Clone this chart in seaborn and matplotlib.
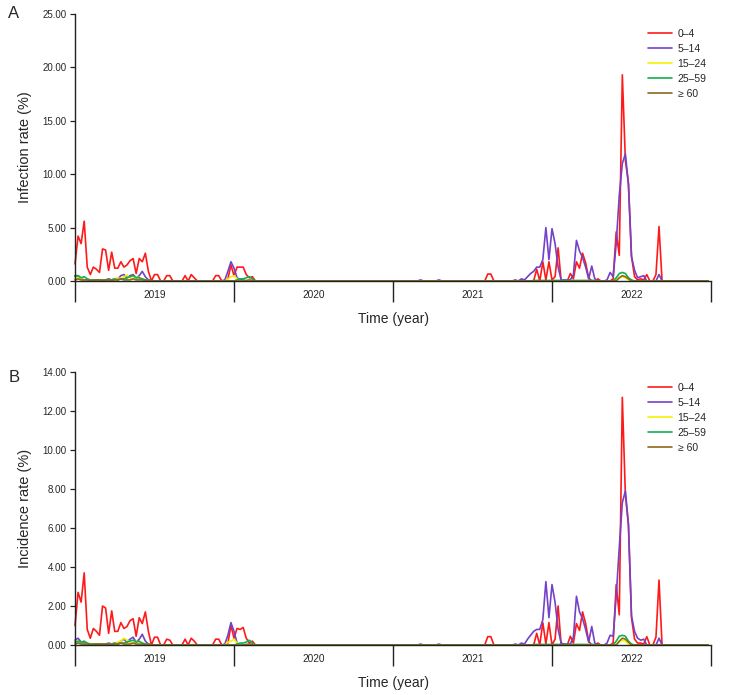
import numpy as np
import pandas as pd
import matplotlib.pyplot as plt
import seaborn as sns

sns.set_style("ticks")
plt.rcParams['font.family'] = ['Liberation Sans', 'DejaVu Sans']

groups = ["0–4", "5–14", "15–24", "25–59", "≥ 60"]
colors = ["#ff1a1a", "#7442c8", "#f2f200", "#12b050", "#8c6a1e"]
years = ["2019", "2020", "2021", "2022"]
weeks = np.arange(208)

# ---- panel A: infection rate (%), weekly values 2019-2022 (26 per row) ----
inf_0_4 = [
    1.6, 4.2, 3.5, 5.6, 1.3, 0.6, 1.3, 1.1, 0.8, 3.0, 2.9, 1.0, 2.7, 1.2, 1.2, 1.8, 1.3, 1.5, 1.9, 2.1, 0.7, 2.1, 1.8, 2.6, 0.9, 0,
    0.6, 0.6, 0, 0, 0.5, 0.5, 0, 0, 0, 0, 0.5, 0, 0.6, 0.3, 0, 0, 0, 0, 0, 0, 0.5, 0.5, 0, 0, 0.2, 1.5,
    0.5, 1.3, 1.3, 1.3, 0.6, 0.3, 0.4, 0, 0, 0, 0, 0, 0, 0, 0, 0, 0, 0, 0, 0, 0, 0, 0, 0, 0, 0,
    0, 0, 0, 0, 0, 0, 0, 0, 0, 0, 0, 0, 0, 0, 0, 0, 0, 0, 0, 0, 0, 0, 0, 0, 0, 0,
    0, 0, 0, 0, 0, 0, 0, 0, 0, 0, 0, 0, 0, 0, 0, 0, 0, 0, 0, 0, 0, 0, 0, 0, 0, 0,
    0, 0, 0, 0, 0, 0.65, 0.65, 0, 0, 0, 0, 0, 0, 0, 0, 0, 0, 0, 0, 0, 0, 1.1, 0, 1.8, 0.1, 1.8,
    0.1, 0.4, 3.1, 0, 0, 0, 0.7, 0.2, 1.8, 1.2, 2.6, 1.7, 0.3, 0, 0, 0.2, 0, 0, 0, 0, 0.2, 4.6, 2.4, 19.3, 11.3, 9.2,
    2.3, 0.4, 0.1, 0.2, 0.1, 0.6, 0, 0, 0.6, 5.1, 0, 0, 0, 0, 0, 0, 0, 0, 0, 0, 0, 0, 0, 0, 0, 0,
]
inf_5_14 = [
    0.5, 0.5, 0.2, 0.1, 0.1, 0.1, 0.1, 0.1, 0.1, 0.1, 0.1, 0.2, 0.1, 0.2, 0.2, 0.5, 0.6, 0.3, 0.5, 0.6, 0.3, 0.5, 0.9, 0.4, 0.1, 0,
    0, 0, 0, 0, 0, 0, 0, 0, 0, 0, 0, 0, 0, 0, 0, 0, 0, 0, 0, 0, 0, 0, 0, 0.1, 0.9, 1.8,
    1.2, 0.3, 0.1, 0.1, 0, 0, 0, 0, 0, 0, 0, 0, 0, 0, 0, 0, 0, 0, 0, 0, 0, 0, 0, 0, 0, 0,
    0, 0, 0, 0, 0, 0, 0, 0, 0, 0, 0, 0, 0, 0, 0, 0, 0, 0, 0, 0, 0, 0, 0, 0, 0, 0,
    0, 0, 0, 0, 0, 0, 0, 0, 0, 0.1, 0, 0, 0, 0, 0, 0.1, 0, 0, 0, 0, 0, 0, 0, 0, 0, 0,
    0, 0, 0, 0, 0, 0, 0, 0, 0, 0, 0, 0, 0, 0, 0.1, 0, 0.2, 0.1, 0.4, 0.7, 0.9, 1.3, 1.3, 2.0, 5.0, 2.0,
    4.9, 3.5, 1.3, 0.1, 0.1, 0.1, 0.1, 0.6, 3.8, 2.8, 2.2, 1.3, 0.2, 1.4, 0.2, 0, 0, 0, 0.1, 0.8, 0.4, 3.5, 8.0, 11.0, 11.9, 9.0,
    2.3, 1.0, 0.3, 0.4, 0.5, 0, 0, 0, 0, 0.6, 0, 0, 0, 0, 0, 0, 0, 0, 0, 0, 0, 0, 0, 0, 0, 0,
]
inf_15_24 = [
    0.2, 0.3, 0.2, 0.1, 0.1, 0.1, 0.1, 0.1, 0.1, 0.1, 0.1, 0.1, 0.1, 0.2, 0.3, 0.2, 0.4, 0.55, 0.3, 0.2, 0.4, 0.3, 0.2, 0.1, 0, 0,
    0, 0, 0, 0, 0, 0, 0, 0, 0, 0, 0, 0, 0, 0, 0, 0, 0, 0, 0, 0, 0, 0, 0, 0, 0.2, 0.4,
    0.5, 0.2, 0, 0, 0, 0, 0, 0, 0, 0, 0, 0, 0, 0, 0, 0, 0, 0, 0, 0, 0, 0, 0, 0, 0, 0,
    0, 0, 0, 0, 0, 0, 0, 0, 0, 0, 0, 0, 0, 0, 0, 0, 0, 0, 0, 0, 0, 0, 0, 0, 0, 0,
    0, 0, 0, 0, 0, 0, 0, 0, 0, 0, 0, 0, 0, 0, 0, 0, 0, 0, 0, 0, 0, 0, 0, 0, 0, 0,
    0, 0, 0, 0, 0, 0, 0, 0, 0, 0, 0, 0, 0, 0, 0, 0, 0, 0, 0, 0, 0, 0, 0, 0, 0, 0,
    0, 0, 0, 0, 0, 0, 0, 0, 0, 0, 0, 0, 0, 0, 0, 0, 0, 0, 0, 0, 0, 0.1, 0.3, 0.4, 0.3, 0.1,
    0.05, 0, 0, 0, 0, 0, 0, 0, 0, 0, 0, 0, 0, 0, 0, 0, 0, 0, 0, 0, 0, 0, 0, 0, 0, 0,
]
inf_25_59 = [
    0.4, 0.5, 0.3, 0.4, 0.2, 0.1, 0.1, 0.1, 0.1, 0.1, 0.1, 0.1, 0.1, 0.2, 0.1, 0.2, 0.2, 0.3, 0.4, 0.5, 0.3, 0.3, 0.2, 0.1, 0.1, 0,
    0, 0, 0, 0, 0, 0, 0, 0, 0, 0, 0, 0, 0, 0, 0, 0, 0, 0, 0, 0, 0, 0, 0, 0, 0, 0,
    0, 0.1, 0.2, 0.2, 0.3, 0.4, 0.2, 0, 0, 0, 0, 0, 0, 0, 0, 0, 0, 0, 0, 0, 0, 0, 0, 0, 0, 0,
    0, 0, 0, 0, 0, 0, 0, 0, 0, 0, 0, 0, 0, 0, 0, 0, 0, 0, 0, 0, 0, 0, 0, 0, 0, 0,
    0, 0, 0, 0, 0, 0, 0, 0, 0, 0, 0, 0, 0, 0, 0, 0, 0, 0, 0, 0, 0, 0, 0, 0, 0, 0,
    0, 0, 0, 0, 0, 0, 0, 0, 0, 0, 0, 0, 0, 0, 0, 0, 0, 0, 0, 0, 0.05, 0.05, 0.05, 0.05, 0.05, 0.05,
    0.05, 0.05, 0.05, 0.05, 0.05, 0.05, 0.05, 0.05, 0.05, 0.05, 0.05, 0.05, 0.05, 0.05, 0.05, 0, 0, 0, 0, 0, 0, 0.3, 0.7, 0.8, 0.7, 0.3,
    0.1, 0, 0, 0, 0, 0, 0, 0, 0, 0, 0, 0, 0, 0, 0, 0, 0, 0, 0, 0, 0, 0, 0, 0, 0, 0,
]
inf_60 = [
    0.1, 0.2, 0.1, 0.1, 0.1, 0.05, 0.05, 0.1, 0.1, 0.05, 0.1, 0.1, 0.05, 0.1, 0.1, 0.2, 0.1, 0.1, 0.1, 0.2, 0.1, 0.1, 0.1, 0.05, 0.05, 0,
    0, 0, 0, 0, 0, 0, 0, 0, 0, 0, 0, 0, 0, 0, 0, 0, 0, 0, 0, 0, 0, 0, 0, 0, 0, 0,
    0, 0, 0, 0, 0.05, 0.1, 0.05, 0, 0, 0, 0, 0, 0, 0, 0, 0, 0, 0, 0, 0, 0, 0, 0, 0, 0, 0,
    0, 0, 0, 0, 0, 0, 0, 0, 0, 0, 0, 0, 0, 0, 0, 0, 0, 0, 0, 0, 0, 0, 0, 0, 0, 0,
    0, 0, 0, 0, 0, 0, 0, 0, 0, 0, 0, 0, 0, 0, 0, 0, 0, 0, 0, 0, 0, 0, 0, 0, 0, 0,
    0, 0, 0, 0, 0, 0, 0, 0, 0, 0, 0, 0, 0, 0, 0, 0, 0, 0, 0, 0, 0, 0, 0, 0, 0, 0,
    0, 0, 0, 0, 0, 0, 0, 0, 0, 0, 0, 0, 0, 0, 0, 0, 0, 0, 0, 0, 0, 0, 0.3, 0.5, 0.4, 0.2,
    0, 0, 0, 0, 0, 0, 0, 0, 0, 0, 0, 0, 0, 0, 0, 0, 0, 0, 0, 0, 0, 0, 0, 0, 0, 0,
]

# ---- panel B: incidence rate (%) ----
inc_0_4 = [
    1.0, 2.7, 2.2, 3.7, 0.8, 0.35, 0.85, 0.7, 0.5, 2.0, 1.9, 0.6, 1.75, 0.7, 0.7, 1.15, 0.85, 0.95, 1.25, 1.35, 0.45, 1.4, 1.1, 1.7, 0.7, 0,
    0.4, 0.4, 0, 0, 0.3, 0.25, 0, 0, 0, 0, 0.3, 0, 0.35, 0.2, 0, 0, 0, 0, 0, 0, 0.3, 0.3, 0, 0, 0.1, 1.0,
    0.35, 0.85, 0.8, 0.9, 0.35, 0.1, 0.2, 0, 0, 0, 0, 0, 0, 0, 0, 0, 0, 0, 0, 0, 0, 0, 0, 0, 0, 0,
    0, 0, 0, 0, 0, 0, 0, 0, 0, 0, 0, 0, 0, 0, 0, 0, 0, 0, 0, 0, 0, 0, 0, 0, 0, 0,
    0, 0, 0, 0, 0, 0, 0, 0, 0, 0, 0, 0, 0, 0, 0, 0, 0, 0, 0, 0, 0, 0, 0, 0, 0, 0,
    0, 0, 0, 0, 0, 0.43, 0.43, 0, 0, 0, 0, 0, 0, 0, 0, 0, 0, 0, 0, 0, 0, 0.6, 0, 1.15, 0.05, 1.15,
    0, 0.3, 2.0, 0, 0, 0, 0.45, 0.1, 1.1, 0.75, 1.7, 1.1, 0.2, 0, 0, 0.1, 0, 0, 0, 0, 0.1, 3.1, 1.55, 12.7, 7.7, 6.15,
    1.4, 0.3, 0.1, 0.1, 0.05, 0.43, 0, 0, 0.4, 3.33, 0, 0, 0, 0, 0, 0, 0, 0, 0, 0, 0, 0, 0, 0, 0, 0,
]
inc_5_14 = [
    0.25, 0.35, 0.15, 0.1, 0.05, 0.05, 0.05, 0.05, 0.05, 0.05, 0.05, 0.1, 0.05, 0.1, 0.1, 0.2, 0.3, 0.15, 0.3, 0.4, 0.15, 0.3, 0.55, 0.2, 0.05, 0,
    0, 0, 0, 0, 0, 0, 0, 0, 0, 0, 0, 0, 0, 0, 0, 0, 0, 0, 0, 0, 0, 0, 0, 0.05, 0.5, 1.15,
    0.7, 0.1, 0, 0, 0, 0, 0, 0, 0, 0, 0, 0, 0, 0, 0, 0, 0, 0, 0, 0, 0, 0, 0, 0, 0, 0,
    0, 0, 0, 0, 0, 0, 0, 0, 0, 0, 0, 0, 0, 0, 0, 0, 0, 0, 0, 0, 0, 0, 0, 0, 0, 0,
    0, 0, 0, 0, 0, 0, 0, 0, 0, 0.05, 0, 0, 0, 0, 0, 0.05, 0, 0, 0, 0, 0, 0, 0, 0, 0, 0,
    0, 0, 0, 0, 0, 0, 0, 0, 0, 0, 0, 0, 0, 0, 0.05, 0, 0.1, 0.05, 0.3, 0.5, 0.7, 0.8, 0.8, 1.3, 3.25, 1.4,
    3.1, 2.2, 0.8, 0.1, 0.05, 0.05, 0.05, 0.4, 2.5, 1.7, 1.35, 0.8, 0.15, 0.95, 0.1, 0, 0, 0, 0.1, 0.5, 0.45, 2.5, 5.0, 7.3, 7.9, 6.2,
    1.5, 0.7, 0.35, 0.25, 0.3, 0, 0, 0, 0, 0.35, 0, 0, 0, 0, 0, 0, 0, 0, 0, 0, 0, 0, 0, 0, 0, 0,
]
inc_15_24 = [
    0.1, 0.2, 0.1, 0.05, 0.05, 0.05, 0.05, 0.05, 0.05, 0.05, 0.05, 0.05, 0.05, 0.1, 0.15, 0.2, 0.35, 0.25, 0.15, 0.1, 0.2, 0.15, 0.1, 0.05, 0, 0,
    0, 0, 0, 0, 0, 0, 0, 0, 0, 0, 0, 0, 0, 0, 0, 0, 0, 0, 0, 0, 0, 0, 0, 0, 0.15, 0.2,
    0.3, 0.1, 0, 0, 0, 0, 0, 0, 0, 0, 0, 0, 0, 0, 0, 0, 0, 0, 0, 0, 0, 0, 0, 0, 0, 0,
    0, 0, 0, 0, 0, 0, 0, 0, 0, 0, 0, 0, 0, 0, 0, 0, 0, 0, 0, 0, 0, 0, 0, 0, 0, 0,
    0, 0, 0, 0, 0, 0, 0, 0, 0, 0, 0, 0, 0, 0, 0, 0, 0, 0, 0, 0, 0, 0, 0, 0, 0, 0,
    0, 0, 0, 0, 0, 0, 0, 0, 0, 0, 0, 0, 0, 0, 0, 0, 0, 0, 0, 0, 0, 0, 0, 0, 0, 0,
    0, 0, 0, 0, 0, 0, 0, 0, 0, 0, 0, 0, 0, 0, 0, 0, 0, 0, 0, 0, 0, 0, 0.15, 0.25, 0.2, 0.05,
    0, 0, 0, 0, 0, 0, 0, 0, 0, 0, 0, 0, 0, 0, 0, 0, 0, 0, 0, 0, 0, 0, 0, 0, 0, 0,
]
inc_25_59 = [
    0.15, 0.2, 0.15, 0.2, 0.1, 0.05, 0.05, 0.05, 0.05, 0.05, 0.05, 0.05, 0.05, 0.1, 0.05, 0.1, 0.1, 0.15, 0.2, 0.25, 0.15, 0.2, 0.1, 0.05, 0.05, 0,
    0, 0, 0, 0, 0, 0, 0, 0, 0, 0, 0, 0, 0, 0, 0, 0, 0, 0, 0, 0, 0, 0, 0, 0, 0, 0,
    0, 0.05, 0.1, 0.1, 0.15, 0.25, 0.1, 0, 0, 0, 0, 0, 0, 0, 0, 0, 0, 0, 0, 0, 0, 0, 0, 0, 0, 0,
    0, 0, 0, 0, 0, 0, 0, 0, 0, 0, 0, 0, 0, 0, 0, 0, 0, 0, 0, 0, 0, 0, 0, 0, 0, 0,
    0, 0, 0, 0, 0, 0, 0, 0, 0, 0, 0, 0, 0, 0, 0, 0, 0, 0, 0, 0, 0, 0, 0, 0, 0, 0,
    0, 0, 0, 0, 0, 0, 0, 0, 0, 0, 0, 0, 0, 0, 0, 0, 0, 0, 0, 0, 0.03, 0.03, 0.03, 0.03, 0.03, 0.03,
    0.03, 0.03, 0.03, 0.03, 0.03, 0.03, 0.03, 0.03, 0.03, 0.03, 0.03, 0.03, 0.03, 0.03, 0.03, 0, 0, 0, 0, 0, 0, 0.2, 0.45, 0.5, 0.45, 0.2,
    0.05, 0, 0, 0, 0, 0, 0, 0, 0, 0, 0, 0, 0, 0, 0, 0, 0, 0, 0, 0, 0, 0, 0, 0, 0, 0,
]
inc_60 = [
    0.05, 0.1, 0.05, 0.05, 0.05, 0.03, 0.03, 0.05, 0.05, 0.03, 0.05, 0.05, 0.03, 0.05, 0.05, 0.1, 0.05, 0.05, 0.05, 0.1, 0.05, 0.05, 0.05, 0.03, 0.03, 0,
    0, 0, 0, 0, 0, 0, 0, 0, 0, 0, 0, 0, 0, 0, 0, 0, 0, 0, 0, 0, 0, 0, 0, 0, 0, 0,
    0, 0, 0, 0, 0.03, 0.05, 0.03, 0, 0, 0, 0, 0, 0, 0, 0, 0, 0, 0, 0, 0, 0, 0, 0, 0, 0, 0,
    0, 0, 0, 0, 0, 0, 0, 0, 0, 0, 0, 0, 0, 0, 0, 0, 0, 0, 0, 0, 0, 0, 0, 0, 0, 0,
    0, 0, 0, 0, 0, 0, 0, 0, 0, 0, 0, 0, 0, 0, 0, 0, 0, 0, 0, 0, 0, 0, 0, 0, 0, 0,
    0, 0, 0, 0, 0, 0, 0, 0, 0, 0, 0, 0, 0, 0, 0, 0, 0, 0, 0, 0, 0, 0, 0, 0, 0, 0,
    0, 0, 0, 0, 0, 0, 0, 0, 0, 0, 0, 0, 0, 0, 0, 0, 0, 0, 0, 0, 0, 0, 0.2, 0.35, 0.3, 0.15,
    0, 0, 0, 0, 0, 0, 0, 0, 0, 0, 0, 0, 0, 0, 0, 0, 0, 0, 0, 0, 0, 0, 0, 0, 0, 0,
]


def draw_panel(ax, series, ymax, ystep, ylabel, legend_top):
    df = pd.DataFrame({
        'week': np.tile(weeks, len(groups)),
        'rate': np.concatenate(series),
        'group': np.repeat(groups, len(weeks)),
    })
    sns.lineplot(data=df, x='week', y='rate', hue='group', hue_order=groups,
                 palette=colors, estimator=None, linewidth=1.2, legend=False, ax=ax)
    for ln in ax.get_lines():
        ln.set_clip_on(False)

    ax.set_xlim(0, 208)
    ax.set_ylim(0, ymax)
    ax.set_yticks(np.arange(0, ymax + 0.01, ystep))
    ax.set_yticklabels(["%.2f" % v for v in np.arange(0, ymax + 0.01, ystep)])
    ax.set_xticks([0, 52, 104, 156, 208])
    ax.set_xticklabels([])
    ax.set_xticks([26, 78, 130, 182], minor=True)
    ax.set_xticklabels(years, minor=True)
    ax.tick_params(axis='x', which='major', length=15, width=1.0, color='#222222')
    ax.tick_params(axis='x', which='minor', length=0, pad=6.5, labelsize=7.3)
    ax.tick_params(axis='y', length=3.5, width=0.9, pad=2.5, labelsize=7.0, color='#222222')

    for s in ['top', 'right']:
        ax.spines[s].set_visible(False)
    for s in ['left', 'bottom']:
        ax.spines[s].set_linewidth(1.0)
        ax.spines[s].set_color('#222222')

    ax.set_xlabel("Time (year)", fontsize=10)
    ax.set_ylabel(ylabel, fontsize=10.5)
    ax.xaxis.set_label_coords(0.5, -0.115)
    ax.yaxis.set_label_coords(-0.068, 0.5)

    ax.legend(handles=ax.get_lines()[:5], labels=groups, frameon=False,
              loc='upper left', bbox_to_anchor=(648 / 729, legend_top),
              bbox_transform=plt.gcf().transFigure, borderaxespad=0, borderpad=0,
              fontsize=7.5, handlelength=2.3, handletextpad=0.55, labelspacing=0.48)


fig = plt.figure(figsize=(7.29, 6.95), dpi=100)
ax1 = fig.add_axes([0.1029, 0.5957, 0.8724, 0.3842])
ax2 = fig.add_axes([0.1029, 0.0719, 0.8724, 0.3928])

draw_panel(ax1, [inf_0_4, inf_5_14, inf_15_24, inf_25_59, inf_60],
           25, 5, "Infection rate (%)", 1 - 29 / 695)
draw_panel(ax2, [inc_0_4, inc_5_14, inc_15_24, inc_25_59, inc_60],
           14, 2, "Incidence rate (%)", 1 - 383 / 695)

fig.text(14 / 729, 1 - 14 / 695, "A", fontsize=12, ha='center', va='center')
fig.text(14 / 729, 1 - 377 / 695, "B", fontsize=12, ha='center', va='center')

plt.savefig("out.png", dpi=100)
